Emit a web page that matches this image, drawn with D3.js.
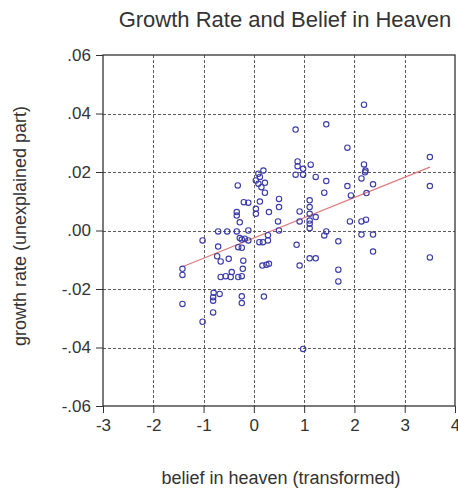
<!DOCTYPE html>
<html>
<head>
<meta charset="utf-8">
<script src="https://cdn.jsdelivr.net/npm/d3@7"></script>
<style>
  body { margin: 0; background: #fff; }
  svg { display: block; font-family: "Liberation Sans", Arial, sans-serif; }
</style>
</head>
<body>
<svg id="chart"></svg>
<script>
// belief in heaven (transformed) vs growth rate (unexplained part)
let belief = [
    2.19, 1.44, 0.83, 1.86, 3.50, 0.87, 0.87, 1.13, 2.19, 0.98,
    2.22, 2.21, 0.83, 0.98, 1.23, 2.14, 1.44, 2.37, 1.86, 3.50,
    1.40, 2.24, 1.93, 1.11, 1.11, 0.91, 1.11, 1.23, 1.11, 0.91,
    1.11, 1.11, 1.91, 2.14, 2.23, 0.19, 0.09, 0.12, 0.04, 0.09,
    0.22, 0.15, 0.22, -0.32, 0.12, -0.20, -0.11, 0.50, -0.34, -0.34,
    -0.28, 0.04, 0.04, 0.30, 0.50, 0.48, -0.71, -0.53, -0.34, -0.11,
    0.50, -1.02, -0.28, -0.24, -0.18, -0.11, 0.11, 0.18, 0.28, 0.28,
    -0.71, -0.31, -0.24, 0.85, 1.44, 1.40, 1.68, 2.14, 2.37, 2.37,
    3.50, 1.11, 1.23, 0.91, 1.68, 1.68, 0.98, -0.73, -0.66, -0.50,
    -0.21, -1.42, -1.42, 0.17, 0.25, 0.30, -0.66, -0.56, -0.44, -0.46,
    -0.31, -0.24, -0.22, -0.80, -0.68, -0.81, -0.81, -0.24, -0.24, 0.20,
    -1.42, -0.81, -1.02
];
let growth = [
    0.0430, 0.0363, 0.0345, 0.0283, 0.0251, 0.0236, 0.0220, 0.0225, 0.0226, 0.0211,
    0.0205, 0.0199, 0.0191, 0.0191, 0.0183, 0.0178, 0.0169, 0.0158, 0.0152, 0.0152,
    0.0129, 0.0128, 0.0120, 0.0103, 0.0080, 0.0065, 0.0057, 0.0046, 0.0034, 0.0031,
    0.0023, 0.0008, 0.0031, 0.0031, 0.0037, 0.0205, 0.0194, 0.0183, 0.0171, 0.0160,
    0.0163, 0.0148, 0.0129, 0.0154, 0.0099, 0.0097, 0.0095, 0.0108, 0.0063, 0.0051,
    0.0028, 0.0074, 0.0057, 0.0063, 0.0080, 0.0031, -0.0003, -0.0003, -0.0003, 0.0000,
    0.0000, -0.0034, -0.0026, -0.0031, -0.0028, -0.0034, -0.0040, -0.0040, -0.0034, -0.0016,
    -0.0055, -0.0057, -0.0059, -0.0049, -0.0003, -0.0017, -0.0037, -0.0014, -0.0014, -0.0072,
    -0.0092, -0.0095, -0.0095, -0.0120, -0.0134, -0.0174, -0.0405, -0.0088, -0.0106, -0.0097,
    -0.0103, -0.0131, -0.0152, -0.0120, -0.0117, -0.0114, -0.0159, -0.0156, -0.0142, -0.0159,
    -0.0159, -0.0156, -0.0131, -0.0213, -0.0217, -0.0228, -0.0240, -0.0225, -0.0248, -0.0226,
    -0.0251, -0.0280, -0.0312
];
let xTicks = [-3, -2, -1, 0, 1, 2, 3, 4];
let yTicks = [0.06, 0.04, 0.02, 0.00, -0.02, -0.04, -0.06];

let titleText = "Growth Rate and Belief in Heaven";
let xLabel = "belief in heaven (transformed)";
let yLabel = "growth rate (unexplained part)";

function fmtY(v) {
    // eviews style: .06, -.02, .00
    let s = Math.abs(v).toFixed(2).replace(/^0/, "");
    return (v < -1e-9 ? "-" : "") + s;
}

function drawChart() {
    let W = 458, H = 490;
    let left = 103, right = 455, top = 55, bottom = 406;

    let svg = d3.select("#chart").attr("width", W).attr("height", H);

    let x = d3.scaleLinear().domain([-3, 4]).range([left, right]);
    let y = d3.scaleLinear().domain([-0.06, 0.06]).range([bottom, top]);

    let points = belief.map((b, i) => ({ x: b, y: growth[i] }));

    // grid
    let grid = svg.append("g").attr("class", "grid")
        .attr("stroke", "#5c5c5c").attr("stroke-width", 1).attr("stroke-dasharray", "3,2");
    grid.selectAll("line.gx")
        .data(xTicks.slice(1, -1))
        .enter().append("line")
        .attr("x1", d => Math.round(x(d)) + 0.5).attr("x2", d => Math.round(x(d)) + 0.5)
        .attr("y1", top).attr("y2", bottom);
    grid.selectAll("line.gy")
        .data(yTicks.slice(1, -1))
        .enter().append("line")
        .attr("y1", d => Math.round(y(d)) + 0.5).attr("y2", d => Math.round(y(d)) + 0.5)
        .attr("x1", left).attr("x2", right);

    // axes
    let xAxis = d3.axisBottom(x).tickValues(xTicks).tickSize(7).tickSizeOuter(0).tickPadding(6)
        .tickFormat(d => String(d));
    let yAxis = d3.axisLeft(y).tickValues(yTicks).tickSize(7).tickSizeOuter(0).tickPadding(5)
        .tickFormat(fmtY);

    let gx = svg.append("g").attr("transform", `translate(0,${bottom})`).call(xAxis);
    let gy = svg.append("g").attr("transform", `translate(${left},0)`).call(yAxis);
    [gx, gy].forEach(g => {
        g.select(".domain").remove();
        g.selectAll("line").attr("stroke", "#333");
        g.selectAll("text").attr("fill", "#333").style("font-size", "17px");
    });

    // frame
    svg.append("rect")
        .attr("x", left).attr("y", top)
        .attr("width", right - left).attr("height", bottom - top)
        .attr("fill", "none").attr("stroke", "#333").attr("stroke-width", 1.3);

    // fitted line (least squares)
    let mx = d3.mean(belief), my = d3.mean(growth);
    let sxy = d3.sum(points, p => (p.x - mx) * (p.y - my));
    let sxx = d3.sum(points, p => (p.x - mx) * (p.x - mx));
    let slope = sxy / sxx, icpt = my - slope * mx;
    let ext = d3.extent(belief);
    svg.append("line")
        .attr("x1", x(ext[0])).attr("y1", y(icpt + slope * ext[0]))
        .attr("x2", x(ext[1])).attr("y2", y(icpt + slope * ext[1]))
        .attr("stroke", "#e07a7a").attr("stroke-width", 1.2);

    // scatter
    svg.append("g").selectAll("circle")
        .data(points)
        .enter().append("circle")
        .attr("cx", d => x(d.x)).attr("cy", d => y(d.y))
        .attr("r", 2.7)
        .attr("fill", "none")
        .attr("stroke", "#3a3aa8")
        .attr("stroke-width", 1.1);

    // texts
    svg.append("text")
        .attr("x", 285).attr("y", 27)
        .attr("text-anchor", "middle")
        .attr("fill", "#333")
        .style("font-size", "22px")
        .text(titleText);

    svg.append("text")
        .attr("x", 281).attr("y", 484)
        .attr("text-anchor", "middle")
        .attr("fill", "#333")
        .style("font-size", "18px")
        .text(xLabel);

    svg.append("text")
        .attr("transform", "translate(26,226) rotate(-90)")
        .attr("text-anchor", "middle")
        .attr("fill", "#333")
        .style("font-size", "18px")
        .text(yLabel);
}

drawChart();
</script>
</body>
</html>
